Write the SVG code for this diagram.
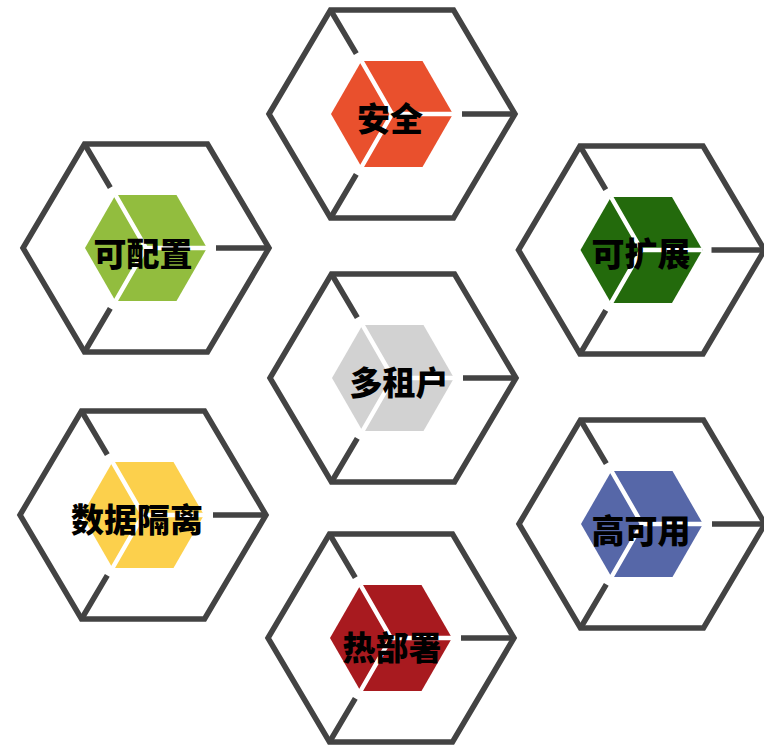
<svg xmlns="http://www.w3.org/2000/svg" xmlns:xlink="http://www.w3.org/1999/xlink" width="764" height="752" viewBox="0 0 764 752">
<style>
.frame{fill:none;stroke:#434343;stroke-width:5.5;stroke-linejoin:miter}
.spoke{stroke:#434343;stroke-width:5.5;fill:none}
.ws{stroke:#ffffff;stroke-width:4.5;fill:none}
.lbl{font-family:"Noto Sans CJK SC","Noto Sans",sans-serif;font-weight:900;font-size:33px;fill:#000;text-anchor:middle;dominant-baseline:central}
</style>
<defs>
<g id="frame">
<polygon class="frame" points="-123,0 -61.5,-104 61.5,-104 123,0 61.5,104 -61.5,104"/>
<path class="spoke" d="M-61.5,-104 L-35.7,-60.3 M123,0 L70,0 M-61.5,104 L-35.7,60.3"/>
</g>
<polygon id="core" points="-61,0 -30.5,-53 30.5,-53 61,0 30.5,53 -30.5,53"/>
<path id="ws" class="ws" d="M-30.5,-53 L0,0 L61,0 M0,0 L-30.5,53"/>
</defs>
<rect width="764" height="752" fill="#ffffff"/>
<g id="node-anquan" transform="translate(392,114)">
<use xlink:href="#frame"/><use xlink:href="#core" fill="#E9502D"/><use xlink:href="#ws"/>
</g>
<g id="node-kepeizhi" transform="translate(146,248)">
<use xlink:href="#frame"/><use xlink:href="#core" fill="#92BD3E"/><use xlink:href="#ws"/>
</g>
<g id="node-kekuozhan" transform="translate(641.5,250)">
<use xlink:href="#frame"/><use xlink:href="#core" fill="#236A0C"/><use xlink:href="#ws"/>
</g>
<g id="node-duozuhu" transform="translate(393,378)">
<use xlink:href="#frame"/><use xlink:href="#core" fill="#D2D2D2"/><use xlink:href="#ws"/>
</g>
<g id="node-shujugeli" transform="translate(143,515)">
<use xlink:href="#frame"/><use xlink:href="#core" fill="#FCD04C"/><use xlink:href="#ws"/>
</g>
<g id="node-gaokeyong" transform="translate(642,524)">
<use xlink:href="#frame"/><use xlink:href="#core" fill="#5667A8"/><use xlink:href="#ws"/>
</g>
<g id="node-rebushu" transform="translate(391,638)">
<use xlink:href="#frame"/><use xlink:href="#core" fill="#A81A1F"/><use xlink:href="#ws"/>
</g>
<g id="labels">
<text class="lbl" x="390" y="117">安全</text>
<text class="lbl" x="143" y="252">可配置</text>
<text class="lbl" x="641" y="252">可扩展</text>
<text class="lbl" x="399" y="381">多租户</text>
<text class="lbl" x="137" y="518">数据隔离</text>
<text class="lbl" x="641" y="529">高可用</text>
<text class="lbl" x="392" y="646">热部署</text>
</g>
<g id="connectors"></g>
</svg>
